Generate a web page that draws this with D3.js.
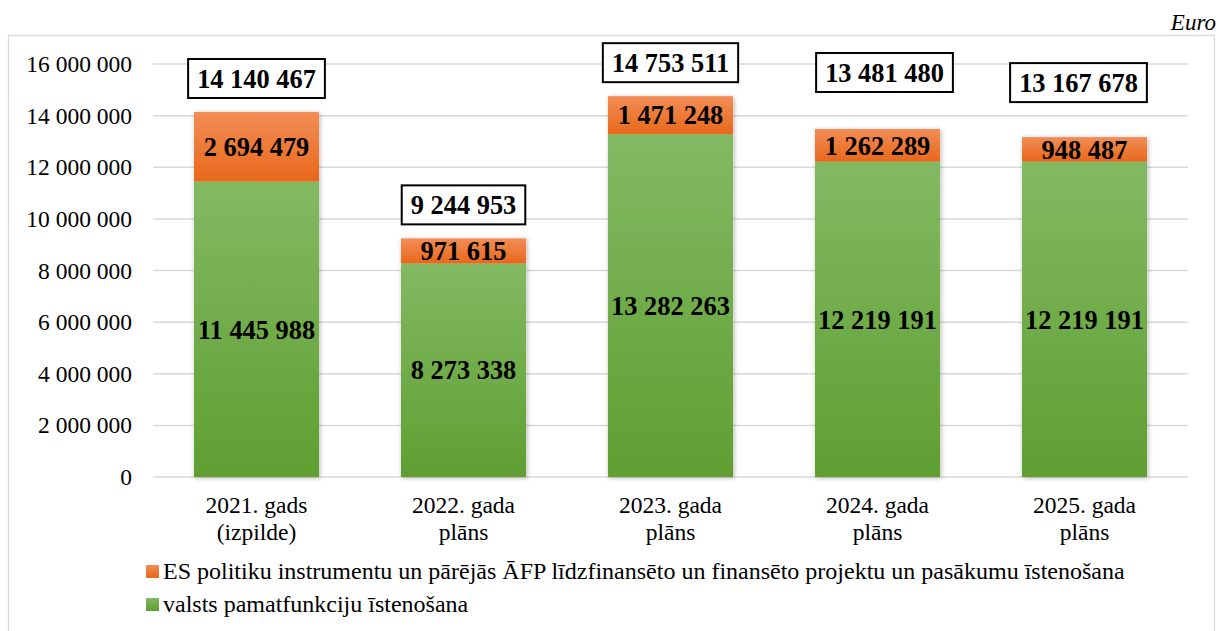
<!DOCTYPE html>
<html>
<head>
<meta charset="utf-8">
<script src="https://cdn.jsdelivr.net/npm/d3@7"></script>
<style>
  body { margin: 0; background: #fff; }
  svg { display: block; }
</style>
</head>
<body>
<svg id="chart" width="1219" height="631"></svg>
<script>
// ---- data ----
const categories = ["2021. gads\n(izpilde)", "2022. gada\nplāns", "2023. gada\nplāns", "2024. gada\nplāns", "2025. gada\nplāns"];
const seriesNames = ["valsts pamatfunkciju īstenošana",
  "ES politiku instrumentu un pārējās ĀFP līdzfinansēto un finansēto projektu un pasākumu īstenošana"];
const baseValues = [11445988, 8273338, 13282263, 12219191, 12219191];
const euValues   = [2694479, 971615, 1471248, 1262289, 948487];
const totals     = [14140467, 9244953, 14753511, 13481480, 13167678];
const yTicks     = [0, 2000000, 4000000, 6000000, 8000000, 10000000, 12000000, 14000000, 16000000];
const unitLabel  = "Euro";

// ---- layout (pixels, not data) ----
const FONT = "Liberation Serif";
const totalNudgeX = [0, 0, 0, 7, -6];
const totalNudgeY = [0, 0, 0, -23, -21];

const svg = d3.select("#chart");
const root = svg.append("g").attr("font-family", FONT);
const plot = { left: 153, right: 1188, top: 64, bottom: 477 };

const fmtLocale = d3.formatLocale({ decimal: ",", thousands: " ", grouping: [3], currency: ["", ""] });
const fmt = fmtLocale.format(",d");

const x = d3.scaleBand().domain(categories).range([plot.left, plot.right])
  .paddingInner(0.396).paddingOuter(0.198);
const y = d3.scaleLinear().domain([0, 16000000]).range([plot.bottom, plot.top]);

// defs
const defs = svg.append("defs");
const gGreen = defs.append("linearGradient").attr("id", "gGreen").attr("x1", 0).attr("y1", 0).attr("x2", 0).attr("y2", 1);
gGreen.append("stop").attr("offset", "0%").attr("stop-color", "#83b963");
gGreen.append("stop").attr("offset", "100%").attr("stop-color", "#5f9f32");
const gOrange = defs.append("linearGradient").attr("id", "gOrange").attr("x1", 0).attr("y1", 0).attr("x2", 0).attr("y2", 1);
gOrange.append("stop").attr("offset", "0%").attr("stop-color", "#f28d56");
gOrange.append("stop").attr("offset", "100%").attr("stop-color", "#e8681b");
const shadow = defs.append("filter").attr("id", "shadow").attr("x", "-20%").attr("y", "-20%").attr("width", "140%").attr("height", "140%");
shadow.append("feDropShadow").attr("dx", 1).attr("dy", 1).attr("stdDeviation", 2.5).attr("flood-color", "#000").attr("flood-opacity", 0.3);

// chart border
root.append("rect").attr("x", 8.5).attr("y", 35.5).attr("width", 1206).attr("height", 620)
  .attr("fill", "#fff").attr("stroke", "#d9d9d9").attr("stroke-width", 1.3);

// Euro label
root.append("text").attr("x", 1216).attr("y", 30).attr("text-anchor", "end")
  .attr("font-family", FONT).attr("font-style", "italic").attr("font-size", 23).attr("fill", "#000").text(unitLabel);

// gridlines
root.append("g").selectAll("line").data(yTicks).join("line")
  .attr("x1", plot.left).attr("x2", plot.right)
  .attr("y1", d => y(d)).attr("y2", d => y(d))
  .attr("stroke", "#d9d9d9").attr("stroke-width", 1.5);

// y axis labels
const yAxis = d3.axisLeft(y).tickValues(yTicks).tickFormat(fmt).tickSize(0).tickPadding(0);
const gy = root.append("g").attr("transform", `translate(132,0)`).call(yAxis);
gy.attr("font-family", FONT);
gy.select(".domain").remove();
gy.selectAll("text").attr("font-size", 23.5).attr("fill", "#000").attr("font-family", FONT);

// stacked data
const rows = categories.map((c, i) => ({ cat: c, base: baseValues[i], eu: euValues[i], total: totals[i], i }));
const stack = d3.stack().keys(["base", "eu"])(rows);
const fills = ["url(#gGreen)", "url(#gOrange)"];

const barsG = root.append("g").attr("filter", "url(#shadow)");
stack.forEach((layer, k) => {
  barsG.append("g").selectAll("rect").data(layer).join("rect")
    .attr("x", d => x(d.data.cat))
    .attr("width", x.bandwidth())
    .attr("y", d => y(d[1]))
    .attr("height", d => y(d[0]) - y(d[1]))
    .attr("fill", fills[k]);
});

// segment labels
stack.forEach((layer, k) => {
  root.append("g").selectAll("text").data(layer).join("text")
    .attr("x", d => x(d.data.cat) + x.bandwidth() / 2)
    .attr("y", d => y((d[0] + d[1]) / 2))
    .attr("dy", "0.35em")
    .attr("text-anchor", "middle")
    .attr("font-family", FONT)
    .attr("font-weight", "bold").attr("font-size", 26.4).attr("fill", "#000")
    .text(d => fmt(d[1] - d[0]));
});

// total labels in boxes
const totG = root.append("g").selectAll("g").data(rows).join("g")
  .attr("transform", d => `translate(${x(d.cat) + x.bandwidth() / 2 + totalNudgeX[d.i]},${y(d.total) - 14 - 19.5 + totalNudgeY[d.i]})`);
totG.append("rect").attr("fill", "#fff").attr("stroke", "#000").attr("stroke-width", 2);
totG.append("text").attr("text-anchor", "middle").attr("dy", "0.35em")
  .attr("font-family", FONT)
  .attr("font-weight", "bold").attr("font-size", 26.4).attr("fill", "#000")
  .text(d => fmt(d.total));
totG.each(function () {
  const g = d3.select(this);
  const bb = g.select("text").node().getBBox();
  const w = bb.width + 18;
  g.select("rect").attr("x", -w / 2).attr("y", -19.5).attr("width", w).attr("height", 39);
});

// x category labels
const xl = root.append("g").selectAll("text").data(categories).join("text")
  .attr("x", d => x(d) + x.bandwidth() / 2)
  .attr("y", 513)
  .attr("text-anchor", "middle").attr("font-family", FONT).attr("font-size", 23.5).attr("fill", "#000");
xl.each(function (d) {
  const t = d3.select(this);
  d.split("\n").forEach((line, j) => {
    t.append("tspan").attr("x", x(d) + x.bandwidth() / 2).attr("dy", j === 0 ? 0 : 27).text(line);
  });
});

// legend
const legendItems = [
  { name: seriesNames[1], fill: "url(#gOrange)" },
  { name: seriesNames[0], fill: "url(#gGreen)" }
];
const lg = root.append("g").selectAll("g").data(legendItems).join("g")
  .attr("transform", (d, i) => `translate(146,${565 + i * 33})`);
lg.append("rect").attr("width", 13).attr("height", 13).attr("fill", d => d.fill);
lg.append("text").attr("x", 17).attr("y", 14).attr("font-family", FONT).attr("font-size", 24).attr("fill", "#000").text(d => d.name);
</script>
</body>
</html>
